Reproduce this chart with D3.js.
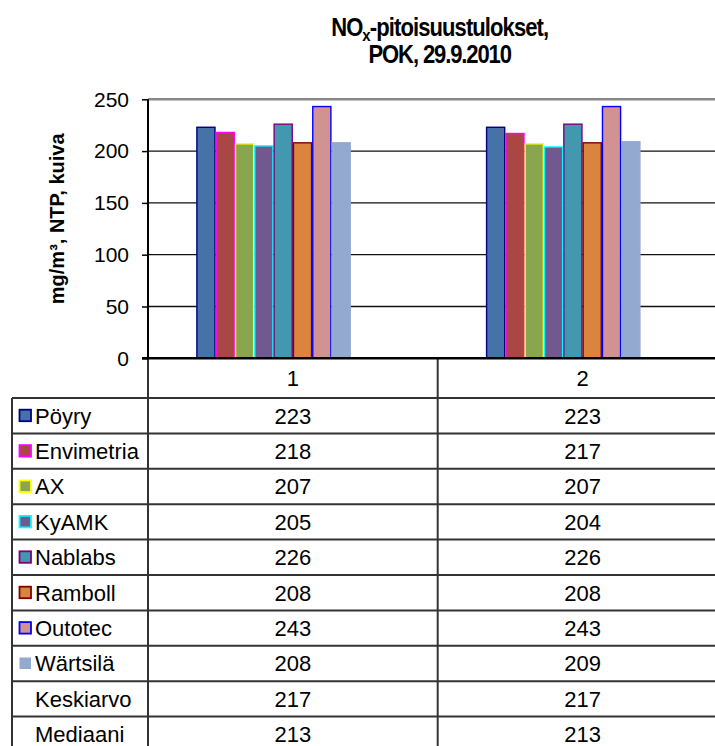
<!DOCTYPE html>
<html>
<head>
<meta charset="utf-8">
<script src="https://cdn.jsdelivr.net/npm/d3@7"></script>
<style>
  html, body { margin: 0; padding: 0; background: #fff; }
  svg { display: block; font-family: "Liberation Sans", Arial, sans-serif; }
</style>
</head>
<body>
<svg id="chart" width="715" height="746"></svg>
<script>
// ---------- data ----------
const categories = ["1", "2"];
const seriesNames = ["Pöyry", "Envimetria", "AX", "KyAMK", "Nablabs", "Ramboll", "Outotec", "Wärtsilä", "Keskiarvo", "Mediaani"];
const valuesCat1 = [223, 218, 207, 205, 226, 208, 243, 208, 217, 213];
const valuesCat2 = [223, 217, 207, 204, 226, 208, 243, 209, 217, 213];
const seriesFill = ["#4572A7", "#AA4643", "#89A54E", "#71588F", "#4198AF", "#DB843D", "#D19392", "#93A9CF", "none", "none"];
const seriesStroke = ["#000080", "#FF00FF", "#FFFF00", "#00FFFF", "#800080", "#800000", "#0000FF", "#93A9CF", "none", "none"];
const yTicks = [0, 50, 100, 150, 200, 250];
const titleLines = ["NO", "POK, 29.9.2010"];
const yAxisTitle = "mg/m³, NTP, kuiva";

// ---------- layout ----------
const svg = d3.select("#chart");
const plotLeft = 148, plotRight = 727.4, plotTop = 99.3, plotBottom = 358.3;
const tableLeft = 12, rowH = 35.4, headerBottom = 398;

const y = d3.scaleLinear().domain([0, 250]).range([plotBottom, plotTop]);
const x0 = d3.scaleBand().domain(categories).range([plotLeft, plotRight]).padding(0);
const x1 = d3.scaleBand().domain(seriesNames).range([0, x0.bandwidth()])
  .paddingInner(0).paddingOuter(2.5);

const valuesByCat = { "1": valuesCat1, "2": valuesCat2 };

// gridlines
svg.append("g").selectAll("line").data(yTicks.filter(t => t > 0)).join("line")
  .attr("x1", plotLeft).attr("x2", plotRight)
  .attr("y1", d => y(d)).attr("y2", d => y(d))
  .attr("stroke", d => d === 250 ? "#888" : "#111")
  .attr("stroke-width", d => d === 250 ? 2.5 : 1.3);

// bars
const groups = svg.append("g").selectAll("g").data(categories).join("g")
  .attr("transform", d => `translate(${x0(d)},0)`);
groups.selectAll("rect")
  .data(c => seriesNames.map((s, i) => ({ s, i, v: valuesByCat[c][i] })))
  .join("rect")
  .attr("x", d => x1(d.s) + 0.6)
  .attr("width", x1.bandwidth() - 1.2)
  .attr("y", d => y(d.v))
  .attr("height", d => plotBottom - y(d.v))
  .attr("fill", d => seriesFill[d.i])
  .attr("stroke", d => seriesStroke[d.i])
  .attr("stroke-width", 1.4);

// y axis
const yAxis = d3.axisLeft(y).tickValues(yTicks).tickSize(6).tickPadding(13);
const gy = svg.append("g").attr("transform", `translate(${plotLeft},0)`).call(yAxis);
gy.select(".domain").remove();
gy.selectAll(".tick line").attr("stroke", "#000").attr("stroke-width", 1.5);
gy.selectAll(".tick text").attr("font-size", 21).attr("fill", "#000")
  .attr("font-family", "Liberation Sans, Arial, sans-serif");

// table grid
const lineColor = "#333";
const nRows = seriesNames.length;
for (let r = 0; r <= nRows; r++) {
  const yy = headerBottom + r * rowH;
  svg.append("line").attr("x1", tableLeft).attr("x2", plotRight)
    .attr("y1", yy).attr("y2", yy).attr("stroke", lineColor).attr("stroke-width", 2);
}
svg.append("line").attr("x1", tableLeft).attr("x2", tableLeft)
  .attr("y1", headerBottom).attr("y2", 760).attr("stroke", lineColor).attr("stroke-width", 2);
svg.append("line").attr("x1", x0("2")).attr("x2", x0("2"))
  .attr("y1", plotBottom).attr("y2", 760).attr("stroke", lineColor).attr("stroke-width", 2);
svg.append("line").attr("x1", plotLeft).attr("x2", plotLeft)
  .attr("y1", plotBottom).attr("y2", 760).attr("stroke", lineColor).attr("stroke-width", 2);

// axis lines (on top)
svg.append("line").attr("x1", plotLeft).attr("x2", plotLeft)
  .attr("y1", plotTop).attr("y2", plotBottom).attr("stroke", "#000").attr("stroke-width", 2);
svg.append("line").attr("x1", plotLeft - 6).attr("x2", plotRight)
  .attr("y1", plotBottom).attr("y2", plotBottom).attr("stroke", "#000").attr("stroke-width", 2.5);

// header labels
svg.append("g").selectAll("text").data(categories).join("text")
  .attr("x", d => x0(d) + x0.bandwidth() / 2)
  .attr("y", (plotBottom + headerBottom) / 2)
  .attr("dy", "0.36em").attr("text-anchor", "middle")
  .attr("font-size", 22).text(d => d);

// table rows
const rows = svg.append("g").selectAll("g").data(seriesNames).join("g")
  .attr("transform", (d, i) => `translate(0,${headerBottom + i * rowH + rowH / 2})`);
rows.filter((d, i) => seriesFill[i] !== "none").append("rect")
  .attr("x", 19.5).attr("y", -6).attr("width", 11.5).attr("height", 11.5)
  .attr("fill", (d) => seriesFill[seriesNames.indexOf(d)])
  .attr("stroke", (d) => { const i = seriesNames.indexOf(d); return i === 7 ? "none" : seriesStroke[i]; })
  .attr("stroke-width", 1.8);
rows.append("text").attr("x", 35).attr("dy", "0.36em")
  .attr("font-size", 22).text(d => d);
categories.forEach(c => {
  rows.append("text")
    .attr("x", x0(c) + x0.bandwidth() / 2).attr("dy", "0.36em")
    .attr("text-anchor", "middle").attr("font-size", 22)
    .text((d, i) => valuesByCat[c][i]);
});

// title (slightly stretched vertically, as in the reference)
const titleX = (plotLeft + plotRight) / 2 + 2;
const tg1 = svg.append("g").attr("transform", `translate(${titleX},36) scale(1,1.13)`);
const t1 = tg1.append("text").attr("x", 0).attr("y", 0)
  .attr("text-anchor", "middle").attr("font-size", 22).attr("font-weight", "bold")
  .attr("letter-spacing", -0.9);
t1.append("tspan").text(titleLines[0]);
t1.append("tspan").attr("font-size", 15).attr("dy", 4).text("x");
t1.append("tspan").attr("dy", -4).text("-pitoisuustulokset,");
const tg2 = svg.append("g").attr("transform", `translate(${titleX},63) scale(1,1.13)`);
tg2.append("text").attr("x", 0).attr("y", 0)
  .attr("text-anchor", "middle").attr("font-size", 22).attr("font-weight", "bold")
  .attr("letter-spacing", -1.1)
  .text(titleLines[1]);

// y axis title
svg.append("text")
  .attr("transform", `translate(64,${(plotTop + plotBottom) / 2 - 10}) rotate(-90)`)
  .attr("text-anchor", "middle").attr("font-size", 20).attr("font-weight", "bold")
  .text(yAxisTitle);
</script>
</body>
</html>
